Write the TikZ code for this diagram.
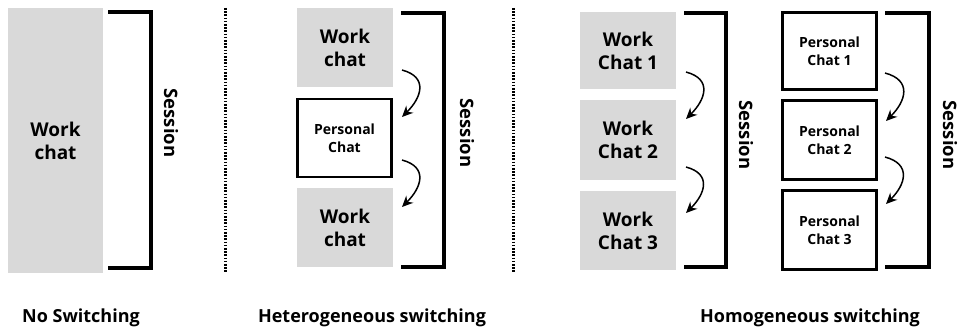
\documentclass[tikz,border=0pt]{standalone}
\usepackage{fontspec}
\setmainfont{Open Sans}
\usetikzlibrary{arrows.meta}
\definecolor{boxgray}{HTML}{D9D9D9}
\tikzset{
  workbox/.style={fill=boxgray, draw=none, minimum width=96pt, inner sep=0pt, align=center,
    font=\fontsize{19}{23}\selectfont\bfseries},
  perbox/.style={draw=black, line width=2.2pt, fill=white, minimum width=94pt, inner sep=0pt, align=center,
    font=\fontsize{14}{18}\selectfont\bfseries},
  bracket/.style={line width=4.5pt},
  sessionlbl/.style={rotate=-90, font=\fontsize{18.5}{20}\selectfont\bfseries, inner sep=0pt},
  caption/.style={font=\fontsize{18}{20}\selectfont\bfseries, inner sep=0pt},
  divider/.style={line width=3pt, dash pattern=on 1.6pt off 1.6pt},
  switcharrow/.style={-{Stealth[length=11pt,width=10pt]}, line width=1.5pt},
  swcurve/.style={out=-15, in=45, looseness=1.5}
}
\begin{document}
\begin{tikzpicture}[x=1pt,y=-1pt]
\useasboundingbox (0,0) rectangle (961,331);
% Panel 1
\node[workbox, minimum width=95pt, minimum height=265pt] (nw) at (55.5,140.5) {Work\\chat};
\coordinate (b1t) at (108,12);
\coordinate (b1b) at (108,268);
\coordinate (b1v) at (151,140);
\draw[bracket] (b1t) -| (b1v) |- (b1b);
\node[sessionlbl] (s1) at (171,123) {Session};
\node[caption] (c1) at (81,318) {No Switching};
\coordinate (d1t) at (225,8);
\coordinate (d1b) at (225,273);
\draw[divider] (d1t) -- (d1b);
% Panel 2
\node[workbox, minimum height=79pt] (hw1) at (345,47.5) {Work\\chat};
\node[perbox, minimum height=78pt] (hp) at (344.5,138) {Personal\\Chat};
\node[workbox, minimum height=79pt] (hw2) at (345,227.5) {Work\\chat};
\coordinate (b2t) at (401,13);
\coordinate (b2b) at (401,267);
\coordinate (b2v) at (444,140);
\draw[bracket] (b2t) -| (b2v) |- (b2b);
\node[sessionlbl] (s2) at (467,133) {Session};
\node[caption] (c2) at (372,318) {Heterogeneous switching};
\coordinate (a1s) at (402,70);
\coordinate (a1e) at (402,117);
\coordinate (a2s) at (402,160);
\coordinate (a2e) at (402,207);
\draw[switcharrow] (a1s) to[swcurve] (a1e);
\draw[switcharrow] (a2s) to[swcurve] (a2e);
% divider 2
\coordinate (d2t) at (513,8);
\coordinate (d2b) at (513,273);
\draw[divider] (d2t) -- (d2b);
% Panel 3
\node[workbox, minimum height=77pt] (mw1) at (628,50.5) {Work\\Chat 1};
\node[workbox, minimum height=80pt] (mw2) at (628,140) {Work\\Chat 2};
\node[workbox, minimum height=79pt] (mw3) at (628,230.5) {Work\\Chat 3};
\coordinate (b3t) at (684,13);
\coordinate (b3b) at (684,267);
\coordinate (b3v) at (726,140);
\draw[bracket] (b3t) -| (b3v) |- (b3b);
\node[sessionlbl] (s3) at (746,135) {Session};
\coordinate (a3s) at (686,72);
\coordinate (a3e) at (686,119);
\coordinate (a4s) at (686,167);
\coordinate (a4e) at (686,213);
\draw[switcharrow] (a3s) to[swcurve] (a3e);
\draw[switcharrow] (a4s) to[swcurve] (a4e);
% Panel 4
\node[perbox, minimum height=77pt] (pp1) at (829.5,51) {Personal\\Chat 1};
\node[perbox, minimum height=79pt] (pp2) at (829.5,140) {Personal\\Chat 2};
\node[perbox, minimum height=79pt] (pp3) at (829.5,230) {Personal\\Chat 3};
\coordinate (b4t) at (885,13);
\coordinate (b4b) at (885,267);
\coordinate (b4v) at (929,140);
\draw[bracket] (b4t) -| (b4v) |- (b4b);
\node[sessionlbl] (s4) at (950,135) {Session};
\coordinate (a5s) at (885,73);
\coordinate (a5e) at (886,121);
\coordinate (a6s) at (885,157);
\coordinate (a6e) at (886,204);
\draw[switcharrow] (a5s) to[swcurve] (a5e);
\draw[switcharrow] (a6s) to[swcurve] (a6e);
\node[caption] (c3) at (810,318) {Homogeneous switching};
\end{tikzpicture}
\end{document}
